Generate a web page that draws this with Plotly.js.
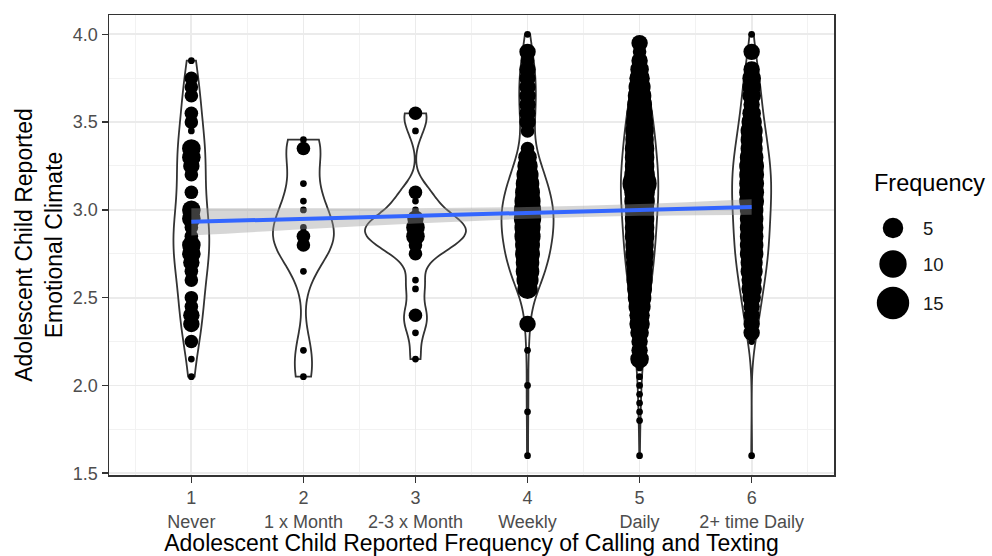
<!DOCTYPE html>
<html>
<head>
<meta charset="utf-8">
<script src="https://cdn.plot.ly/plotly-3.0.1.min.js"></script>
<style>
  html, body { margin: 0; padding: 0; background: #ffffff; }
  #chart { width: 992px; height: 556px; }
</style>
</head>
<body>
<div id="chart"></div>
<script>
// Frequency of calling and texting: codes on the x axis and their labels
const freqCodes = [1, 2, 3, 4, 5, 6];
const freqLabels = ['Never', '1 x Month', '2-3 x Month', 'Weekly', 'Daily', '2+ time Daily'];

// Emotional climate scores in each group, with the number of adolescents giving each score
const climateNever = [3.85, 3.75, 3.70, 3.65, 3.55, 3.50, 3.45, 3.35, 3.30, 3.25, 3.20, 3.10, 3.00, 2.95, 2.90, 2.85, 2.80, 2.75, 2.70, 2.65, 2.60, 2.50, 2.45, 2.40, 2.35, 2.25, 2.15, 2.05];
const countNever   = [1, 2, 2, 2, 2, 2, 1, 4, 4, 3, 2, 2, 4, 4, 2, 2, 4, 4, 3, 2, 2, 2, 2, 3, 3, 2, 1, 1];

const climateMonthly = [3.40, 3.35, 3.15, 3.05, 3.00, 2.90, 2.85, 2.80, 2.65, 2.20, 2.05];
const countMonthly   = [1, 2, 1, 1, 1, 1, 2, 2, 1, 1, 1];

const climateFewMonthly = [3.55, 3.45, 3.10, 3.05, 3.00, 2.95, 2.90, 2.85, 2.80, 2.75, 2.60, 2.55, 2.40, 2.30, 2.15];
const countFewMonthly   = [2, 1, 2, 1, 1, 3, 4, 4, 2, 2, 1, 1, 2, 1, 1];

const climateWeekly = [4.00, 3.90, 3.85, 3.80, 3.75, 3.70, 3.65, 3.60, 3.55, 3.50, 3.45, 3.35, 3.30, 3.25, 3.20, 3.15, 3.10, 3.05, 3.00, 2.95, 2.90, 2.85, 2.80, 2.75, 2.70, 2.65, 2.60, 2.55, 2.35, 2.20, 2.00, 1.85, 1.60];
const countWeekly   = [1, 3, 2, 3, 3, 3, 3, 3, 3, 3, 2, 2, 4, 5, 6, 7, 8, 9, 10, 10, 9, 9, 8, 8, 7, 7, 6, 5, 3, 1, 1, 1, 1];

const climateDaily = [3.95, 3.90, 3.85, 3.80, 3.75, 3.70, 3.65, 3.60, 3.55, 3.50, 3.45, 3.40, 3.35, 3.30, 3.25, 3.20, 3.15, 3.10, 3.05, 3.00, 2.95, 2.90, 2.85, 2.80, 2.75, 2.70, 2.65, 2.60, 2.55, 2.50, 2.45, 2.40, 2.35, 2.30, 2.25, 2.20, 2.15, 2.10, 2.05, 2.00, 1.95, 1.90, 1.85, 1.80, 1.60];
const countDaily   = [3, 2, 3, 4, 5, 6, 7, 8, 9, 10, 11, 11, 12, 12, 12, 13, 17, 13, 13, 12, 12, 12, 12, 11, 11, 10, 9, 9, 8, 7, 6, 5, 5, 4, 3, 3, 4, 1, 1, 1, 1, 1, 1, 1, 1];

const climateMultiDaily = [4.00, 3.90, 3.80, 3.75, 3.70, 3.65, 3.60, 3.55, 3.50, 3.45, 3.40, 3.35, 3.30, 3.25, 3.20, 3.15, 3.10, 3.05, 3.00, 2.95, 2.90, 2.85, 2.80, 2.75, 2.70, 2.65, 2.60, 2.55, 2.50, 2.45, 2.40, 2.35, 2.30, 2.25, 1.60];
const countMultiDaily   = [1, 3, 3, 4, 4, 4, 3, 4, 5, 6, 6, 6, 7, 8, 8, 8, 8, 8, 7, 7, 7, 7, 7, 7, 6, 6, 5, 5, 4, 3, 3, 3, 3, 1, 1];

// Linear fit of climate on frequency, with its 95% confidence band
const fitX     = [1, 2, 3, 4, 5, 6];
const fitY     = [2.932, 2.949, 2.966, 2.983, 3.000, 3.017];
const fitLower = [2.854, 2.889, 2.922, 2.949, 2.966, 2.973];
const fitUpper = [3.010, 3.009, 3.010, 3.017, 3.034, 3.061];

// Breaks shown in the size legend
const sizeBreaks = [5, 10, 15];

const groups = [
  { code: freqCodes[0], climate: climateNever,      count: countNever },
  { code: freqCodes[1], climate: climateMonthly,    count: countMonthly },
  { code: freqCodes[2], climate: climateFewMonthly, count: countFewMonthly },
  { code: freqCodes[3], climate: climateWeekly,     count: countWeekly },
  { code: freqCodes[4], climate: climateDaily,      count: countDaily },
  { code: freqCodes[5], climate: climateMultiDaily, count: countMultiDaily }
];

const FONT = '"Liberation Sans", Arial, Helvetica, sans-serif';

// ---- helpers -------------------------------------------------------------
function expand(values, counts) {
  const out = [];
  values.forEach((v, i) => { for (let k = 0; k < counts[i]; k++) out.push(v); });
  return out.sort((a, b) => a - b);
}
function quantile(sorted, p) {            // R type 7
  const h = (sorted.length - 1) * p, lo = Math.floor(h), hi = Math.ceil(h);
  return sorted[lo] + (h - lo) * (sorted[hi] - sorted[lo]);
}
function bwNrd0(sorted) {                 // Silverman's rule as used by R's density()
  const n = sorted.length;
  const mean = sorted.reduce((a, b) => a + b, 0) / n;
  const sd = Math.sqrt(sorted.reduce((a, b) => a + (b - mean) * (b - mean), 0) / (n - 1));
  const iqr = quantile(sorted, 0.75) - quantile(sorted, 0.25);
  let lo = Math.min(sd, iqr / 1.34);
  if (!(lo > 0)) lo = sd || Math.abs(sorted[0]) || 1;
  return 0.9 * lo * Math.pow(n, -0.2);
}
function maxDensity(sorted, bw) {
  const n = sorted.length, a = sorted[0], b = sorted[n - 1];
  let best = 0;
  for (let i = 0; i <= 512; i++) {
    const t = a + (b - a) * i / 512;
    let s = 0;
    for (const v of sorted) { const z = (t - v) / bw; s += Math.exp(-0.5 * z * z); }
    best = Math.max(best, s / (n * bw * Math.sqrt(2 * Math.PI)));
  }
  return best;
}

// ---- violins: every group has the same area, widest one spans 0.9 ----------
groups.forEach(g => {
  g.raw = expand(g.climate, g.count);
  g.bw = bwNrd0(g.raw);
  g.peak = maxDensity(g.raw, g.bw);
});
const peakAll = Math.max(...groups.map(g => g.peak));

const traces = groups.map(g => ({
  type: 'violin',
  x0: g.code,
  y: g.raw,
  bandwidth: g.bw,
  spanmode: 'hard',
  scalemode: 'width',
  width: 0.9 * g.peak / peakAll,
  points: false,
  box: { visible: false },
  meanline: { visible: false },
  fillcolor: '#ffffff',
  line: { color: '#333333', width: 1.8 },
  hoverinfo: 'skip',
  showlegend: false
}));

// ---- counted points, area-scaled by frequency ------------------------------
const countMin = 1;
const countMax = Math.max(...groups.flatMap(g => g.count));
function pointDiameter(c) {
  const s = 1 + 5 * Math.sqrt(Math.max(0, (c - countMin) / (countMax - countMin)));
  return 5.5 * s + 1.2;
}
const ptX = [], ptY = [], ptSize = [];
groups.forEach(g => g.climate.forEach((v, i) => {
  ptX.push(g.code); ptY.push(v); ptSize.push(pointDiameter(g.count[i]));
}));
traces.push({
  type: 'scatter', mode: 'markers', x: ptX, y: ptY,
  marker: { color: '#000000', opacity: 1, size: ptSize, sizemode: 'diameter', line: { width: 0 } },
  hoverinfo: 'skip', showlegend: false
});

// ---- linear fit and confidence band ----------------------------------------
traces.push({
  type: 'scatter', mode: 'lines', x: fitX, y: fitLower,
  line: { width: 0, shape: 'spline' }, hoverinfo: 'skip', showlegend: false
});
traces.push({
  type: 'scatter', mode: 'lines', x: fitX, y: fitUpper, fill: 'tonexty',
  fillcolor: 'rgba(153,153,153,0.4)',
  line: { width: 0, shape: 'spline' }, hoverinfo: 'skip', showlegend: false
});
traces.push({
  type: 'scatter', mode: 'lines', x: fitX, y: fitY,
  line: { color: '#3366FF', width: 4 }, hoverinfo: 'skip', showlegend: false
});

// ---- size legend drawn in its own small subplot ----------------------------
const legendRows = [228, 264, 303];
traces.push({
  type: 'scatter', mode: 'markers', xaxis: 'x2', yaxis: 'y2',
  x: sizeBreaks.map(() => 893), y: legendRows,
  marker: { color: '#000000', opacity: 1, size: sizeBreaks.map(pointDiameter), line: { width: 0 } },
  hoverinfo: 'skip', showlegend: false
});

const M = { l: 109, r: 0, t: 15, b: 81 };
const plotW = 992 - M.l - M.r;
const panelRight = 834;
const mainFrac = (panelRight - M.l) / plotW;
const legFrac = (850 - M.l) / plotW;

const annotations = [
  { xref: 'x2', yref: 'y2', x: 872, y: 183, text: 'Frequency', showarrow: false,
    xanchor: 'left', yanchor: 'middle', font: { family: FONT, size: 23.5, color: '#000000' } }
].concat(sizeBreaks.map((b, i) => ({
  xref: 'x2', yref: 'y2', x: 921, y: legendRows[i], text: String(b), showarrow: false,
  xanchor: 'left', yanchor: 'middle', font: { family: FONT, size: 18.5, color: '#1a1a1a' }
})));

const layout = {
  width: 992, height: 556,
  margin: M,
  paper_bgcolor: '#ffffff',
  plot_bgcolor: '#ffffff',
  violinmode: 'overlay',
  showlegend: false,
  font: { family: FONT, color: '#000000' },
  xaxis: {
    domain: [0, mainFrac],
    range: [0.265, 6.735],
    tickmode: 'array',
    tickvals: freqCodes,
    ticktext: freqCodes.map((c, i) => c + '<br>' + freqLabels[i]),
    tickfont: { family: FONT, size: 18, color: '#4d4d4d' },
    ticks: 'outside', ticklen: 6, tickwidth: 1.5, tickcolor: '#333333',
    showline: true, mirror: true, linecolor: '#333333', linewidth: 1.5,
    showgrid: true, gridcolor: '#ebebeb', gridwidth: 1.8,
    minor: { tickmode: 'linear', tick0: 0.5, dtick: 1, showgrid: true, gridcolor: '#f2f2f2', gridwidth: 1, ticks: '' },
    zeroline: false, fixedrange: true,
    title: { text: 'Adolescent Child Reported Frequency of Calling and Texting',
             font: { family: FONT, size: 23, color: '#000000' }, standoff: 5 }
  },
  yaxis: {
    range: [1.49, 4.11],
    tickmode: 'linear', tick0: 1.5, dtick: 0.5, tickformat: '.1f',
    tickfont: { family: FONT, size: 18, color: '#4d4d4d' },
    ticks: 'outside', ticklen: 6, tickwidth: 1.5, tickcolor: '#333333',
    showline: true, mirror: true, linecolor: '#333333', linewidth: 1.5,
    showgrid: true, gridcolor: '#ebebeb', gridwidth: 1.8,
    minor: { tickmode: 'linear', tick0: 1.75, dtick: 0.5, showgrid: true, gridcolor: '#f2f2f2', gridwidth: 1, ticks: '' },
    zeroline: false, fixedrange: true,
    title: { text: 'Adolescent Child Reported<br>Emotional Climate',
             font: { family: FONT, size: 23, color: '#000000' }, standoff: 4 }
  },
  xaxis2: {
    domain: [legFrac, 1], range: [850, 992],
    visible: false, fixedrange: true
  },
  yaxis2: {
    anchor: 'x2', domain: [0, 1], range: [556 - M.b, M.t],
    visible: false, fixedrange: true
  },
  annotations: annotations
};

Plotly.newPlot('chart', traces, layout, { staticPlot: true, displayModeBar: false });
</script>
</body>
</html>
